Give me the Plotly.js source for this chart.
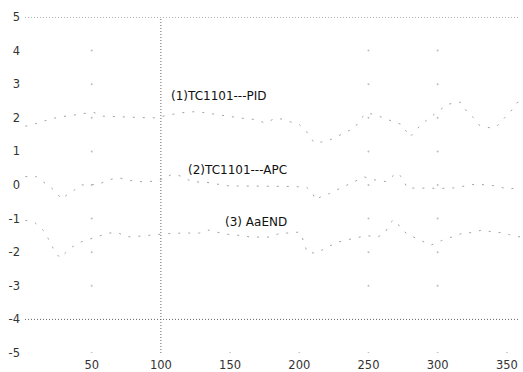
<!DOCTYPE html>
<html>
<head>
<meta charset="utf-8">
<script src="https://cdn.plot.ly/plotly-3.0.1.min.js"></script>
<style>html,body{margin:0;padding:0;background:#fff;}#chart{width:523px;height:372px;}</style>
</head>
<body>
<div id="chart"></div>
<script>
// ---- data ----
const pidX = [2, 7, 15, 26, 40, 51, 58, 65, 70, 80, 90, 97, 105, 115, 123, 130, 140, 150, 160, 168, 175, 184, 192, 200, 205, 211, 216, 222, 230, 240, 245, 249, 254, 260, 267, 274, 280, 288, 294, 299, 307, 316, 322, 326, 330, 338, 342, 348, 353, 357, 360];
const pidY = [1.75, 1.79, 1.9, 2.02, 2.1, 2.17, 2.05, 2.04, 2.02, 2.0, 2.0, 2.0, 2.08, 2.15, 2.18, 2.16, 2.1, 2.02, 1.98, 1.95, 1.85, 2.0, 1.9, 1.8, 1.6, 1.25, 1.28, 1.34, 1.5, 1.7, 2.0, 2.14, 2.1, 2.0, 1.9, 1.8, 1.43, 1.8, 2.0, 2.15, 2.4, 2.47, 2.14, 2.0, 1.78, 1.7, 1.72, 2.0, 2.2, 2.44, 2.5];

const apcX = [2, 10, 18, 21, 25, 28, 32, 36, 42, 48, 55, 62, 69, 76, 83, 90, 97, 103, 107, 112, 118, 122, 128, 133, 140, 150, 156, 162, 170, 180, 190, 198, 205, 209, 212, 215, 222, 232, 240, 247, 255, 263, 270, 274, 278, 286, 295, 303, 311, 317, 322, 328, 335, 343, 350, 355, 360];
const apcY = [0.25, 0.25, 0.0, -0.09, -0.24, -0.42, -0.3, -0.2, 0.0, 0.0, 0.02, 0.15, 0.22, 0.15, 0.1, 0.1, 0.12, 0.2, 0.3, 0.3, 0.2, 0.1, 0.1, 0.08, 0.03, -0.03, -0.03, -0.03, -0.02, -0.03, -0.04, -0.05, -0.06, -0.2, -0.45, -0.36, -0.25, -0.05, 0.1, 0.24, 0.15, 0.1, 0.36, 0.24, -0.09, -0.1, -0.1, -0.1, -0.09, -0.05, 0.0, 0.03, 0.0, -0.03, -0.12, -0.1, -0.05];

const endX = [2, 9, 16, 19, 23, 27, 31, 36, 42, 51, 57, 62, 69, 75, 80, 88, 96, 104, 110, 116, 122, 128, 135, 140, 150, 157, 165, 172, 180, 186, 193, 200, 202, 204, 206, 210, 213, 220, 228, 238, 249, 253, 257, 262, 264, 266, 268, 271, 274, 280, 288, 295, 303, 311, 319, 325, 332, 340, 347, 352, 357, 360];
const endY = [-1.05, -1.12, -1.39, -1.64, -1.95, -2.17, -2.02, -1.84, -1.7, -1.58, -1.52, -1.43, -1.42, -1.54, -1.54, -1.5, -1.48, -1.45, -1.43, -1.43, -1.43, -1.43, -1.34, -1.4, -1.48, -1.5, -1.55, -1.55, -1.55, -1.43, -1.43, -1.4, -1.55, -1.8, -2.02, -2.02, -2.02, -1.85, -1.7, -1.6, -1.5, -1.54, -1.54, -1.42, -1.25, -1.12, -1.04, -1.13, -1.34, -1.5, -1.65, -1.79, -1.65, -1.54, -1.42, -1.42, -1.34, -1.4, -1.42, -1.48, -1.54, -1.54];

const seriesNames = ['(1)TC1101---PID', '(2)TC1101---APC', '(3) AaEND'];
const labelX = [142, 155, 169];
const labelY = [2.65, 0.45, -1.1];

const xTickVals = [50, 100, 150, 200, 250, 300, 350];
const xTickText = ['50', '100', '150', '200', '250', '300', '350'];
const yTickVals = [-5, -4, -3, -2, -1, 0, 1, 2, 3, 4, 5];
const yTickText = ['-5', '-4', '-3', '-2', '-1', '0', '1', '2', '3', '4', '5'];

// dotted reference lines
const refLinesY = [5, -4];
const refLinesX = [100];

// faint grid dots
const gridDotX = [50, 250, 300];
const gridDotY = [4, 3, 2, 1, 0, -1, -2, -3, -5];
const bottomDotX = [150, 200, 350];
const bottomDotY = -5;

// ---- build ----
const curveStyle = {color: '#a2a2a2', width: 1, dash: '2px,8px'};
const traces = [
  {x: pidX, y: pidY, name: seriesNames[0]},
  {x: apcX, y: apcY, name: seriesNames[1]},
  {x: endX, y: endY, name: seriesNames[2]}
].map(t => Object.assign(t, {type: 'scatter', mode: 'lines', line: curveStyle, hoverinfo: 'skip'}));

const gdx = [], gdy = [];
gridDotX.forEach(x => gridDotY.forEach(y => { gdx.push(x); gdy.push(y); }));
bottomDotX.forEach(x => { gdx.push(x); gdy.push(bottomDotY); });
traces.push({type: 'scatter', mode: 'markers', x: gdx, y: gdy,
  marker: {size: 2, color: '#bdbdbd', line: {width: 0}}, hoverinfo: 'skip'});

const shapes = [];
refLinesY.forEach(v => shapes.push({type: 'line', xref: 'paper', x0: 0, x1: 1, yref: 'y', y0: v, y1: v,
  line: {color: '#666', width: 1, dash: '1px,2px'}}));
refLinesX.forEach(v => shapes.push({type: 'line', yref: 'paper', y0: 0, y1: 1, xref: 'x', x0: v, x1: v,
  line: {color: '#666', width: 1, dash: '1px,2px'}}));

const annotations = seriesNames.map((s, i) => ({
  x: labelX[i], y: labelY[i], xref: 'x', yref: 'y', text: s, showarrow: false,
  font: {family: 'DejaVu Sans', size: 12, color: '#111'}
}));

const layout = {
  width: 523, height: 372,
  margin: {l: 25, r: 3, t: 17, b: 19, pad: 0},
  paper_bgcolor: '#fff', plot_bgcolor: '#fff',
  showlegend: false,
  font: {family: 'DejaVu Sans', size: 11.5, color: '#333'},
  xaxis: {range: [1.8, 359.5], showgrid: false, zeroline: false, showline: false, ticks: '',
    tickvals: xTickVals, ticktext: xTickText, ticklabelstandoff: 3},
  yaxis: {range: [-5, 5], showgrid: false, zeroline: false, showline: false, ticks: '',
    tickvals: yTickVals, ticktext: yTickText, ticklabelstandoff: 4},
  shapes: shapes,
  annotations: annotations
};

Plotly.newPlot('chart', traces, layout, {staticPlot: true, displayModeBar: false});
</script>
</body>
</html>
